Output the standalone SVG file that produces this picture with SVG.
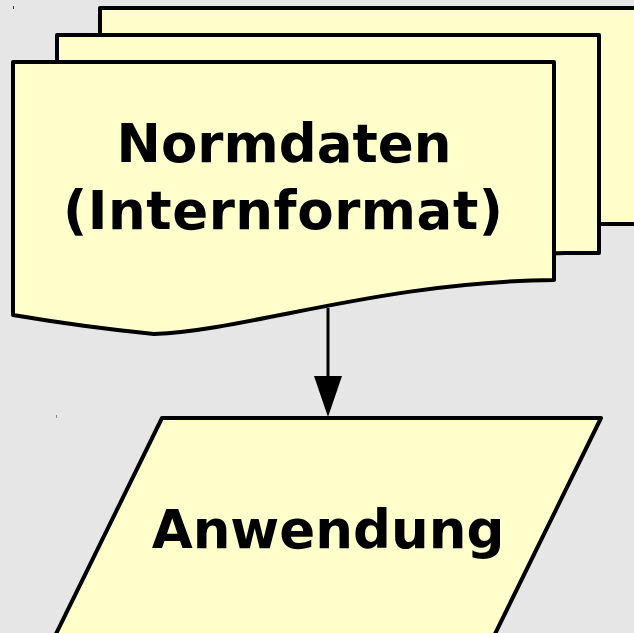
<svg xmlns="http://www.w3.org/2000/svg" width="634" height="633" viewBox="0 0 634 633">
<style>
.doc{fill:#ffffcc;stroke:#000;stroke-width:4;stroke-linejoin:round}
.lbl{font-family:"DejaVu Sans",Verdana,sans-serif;font-weight:bold;font-size:53px;fill:#000;text-anchor:middle}
</style>
<rect width="634" height="633" fill="#e6e6e6"/>
<rect x="13" y="6" width="1" height="3" fill="#333"/>
<rect x="56" y="415" width="1" height="3" fill="#888"/>
<g id="normdaten">
<path class="doc" d="M100,8 H720 V224 H600 C460,226 330,274 241,278 Q171,271 100,259 Z"/>
<path class="doc" d="M57,35 H599 V253 H565 C420,255 290,303 198,307 Q128,300 57,288 Z"/>
<path class="doc" d="M13,62 H554 V280 C380,282 250,330 154,334 Q84,327 13,315 Z"/>
<text class="lbl" x="284" y="162">Normdaten</text>
<text class="lbl" x="283" y="229" textLength="440" lengthAdjust="spacing">(Internformat)</text>
</g>
<g id="connectors">
<line x1="328" y1="308" x2="328" y2="378" stroke="#000" stroke-width="3"/>
<polygon points="314,376 342,376 328,417" fill="#000"/>
</g>
<g id="anwendung">
<polygon class="doc" points="162,418 601,418 492,640 53,640"/>
<text class="lbl" x="328" y="548">Anwendung</text>
</g>
</svg>
